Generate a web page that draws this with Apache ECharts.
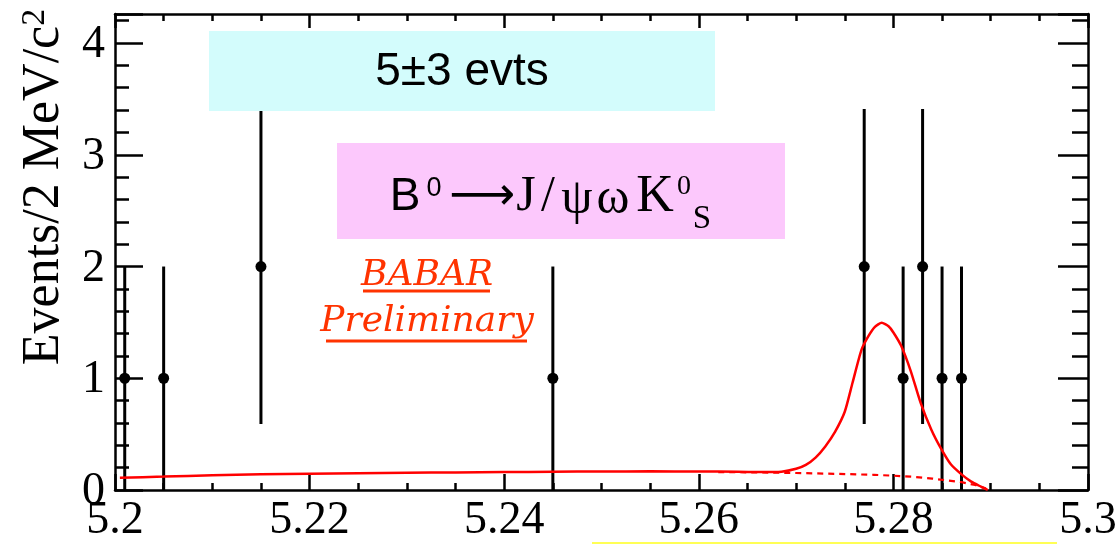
<!DOCTYPE html>
<html>
<head>
<meta charset="utf-8">
<script src="https://cdn.jsdelivr.net/npm/echarts@6/dist/echarts.min.js"></script>
<style>
  html, body { margin: 0; padding: 0; background: #ffffff; }
  #chart { width: 1117px; height: 544px; }
</style>
</head>
<body>
<div id="chart"></div>
<script>
// Candidate mass bins (GeV/c^2), events per 2 MeV bin and their Poisson errors
const binCenters = [5.201, 5.205, 5.215, 5.245, 5.277, 5.281, 5.283, 5.285, 5.287];
const counts     = [1, 1, 2, 1, 2, 1, 2, 1, 1];
const errors     = [1, 1, 1.41, 1, 1.41, 1, 1.41, 1, 1];

// Total fit projection (signal + background)
const fitMass  = [5.2005, 5.205, 5.210, 5.215, 5.220, 5.225, 5.230, 5.235, 5.240, 5.245,
                  5.250, 5.255, 5.260, 5.264, 5.2662, 5.2685, 5.2700, 5.2710, 5.2720, 5.2730,
                  5.2740, 5.2750, 5.2758, 5.2767, 5.2774, 5.2781, 5.2788, 5.2795, 5.2800, 5.2808,
                  5.2818, 5.2828, 5.2839, 5.2849, 5.2859, 5.2870, 5.2880, 5.2890, 5.2897];
const fitTotal = [0.110, 0.120, 0.132, 0.140, 0.146, 0.150, 0.154, 0.157, 0.160, 0.163,
                  0.166, 0.167, 0.166, 0.163, 0.160, 0.164, 0.190, 0.225, 0.290, 0.390,
                  0.520, 0.700, 0.960, 1.250, 1.372, 1.460, 1.497, 1.465, 1.410, 1.290,
                  1.060, 0.780, 0.540, 0.370, 0.230, 0.140, 0.075, 0.030, 0.0];

// Background component of the fit
const bkgMass   = [5.262, 5.266, 5.270, 5.274, 5.278, 5.280, 5.282, 5.284, 5.2857, 5.2870, 5.2884, 5.2894, 5.2897];
const bkgValues = [0.160, 0.158, 0.152, 0.145, 0.136, 0.128, 0.118, 0.102, 0.084, 0.070, 0.045, 0.018, 0.0];

// Axis tick labels and the values they sit on
const xTickLabels = ['5.2', '5.22', '5.24', '5.26', '5.28', '5.3'];
const xTickValues = [5.20, 5.22, 5.24, 5.26, 5.28, 5.30];
const yTickLabels = ['0', '1', '2', '3', '4'];
const yTickValues = [0, 1, 2, 3, 4];

const X_MIN = 5.2, X_MAX = 5.3, X_STEP = 0.02;
const Y_MIN = 0, Y_MAX = 4.26, Y_STEP = 1;

const serif = 'Liberation Serif';
const sans  = 'Liberation Sans';

function pairs(xs, ys) { return xs.map((x, i) => [x, ys[i]]); }

const frame = { show: true, onZero: false, lineStyle: { color: '#000', width: 2.5 } };

function xAxisDef(pos, major, minor) {
  return {
    type: 'value', position: pos, min: X_MIN, max: X_MAX, interval: X_STEP,
    axisLine: frame,
    axisTick: { show: true, inside: true, length: major, lineStyle: { color: '#000', width: 2.5 } },
    minorTick: { show: true, splitNumber: 4, length: minor, lineStyle: { color: '#000', width: 2.5 } },
    splitLine: { show: false }, minorSplitLine: { show: false },
    axisLabel: { show: false }
  };
}
function yAxisDef(pos, major, minor) {
  return {
    type: 'value', position: pos, min: Y_MIN, max: Y_MAX, interval: Y_STEP,
    axisLine: frame,
    axisTick: { show: true, inside: true, length: major, lineStyle: { color: '#000', width: 2.5 } },
    minorTick: { show: true, splitNumber: 5, length: minor, lineStyle: { color: '#000', width: 2.5 } },
    splitLine: { show: false }, minorSplitLine: { show: false },
    axisLabel: { show: false }
  };
}

// Pieces of the decay label: text, font, size, centre x, mid y
const formula = [
  ['B',  sans, 46, 405, 197],
  ['0',  sans, 27, 434, 189],
  ['\u27F6', 'DejaVu Sans', 46, 482, 197],
  ['J',  serif, 50, 526, 197],
  ['/',  serif, 50, 548, 197],
  ['\u03C8', serif, 50, 577, 200],
  ['\u03C9', serif, 50, 613, 200],
  ['K',  serif, 52, 655, 197],
  ['0',  serif, 28, 684, 187],
  ['S',  serif, 33, 702, 219]
];

const chart = echarts.init(document.getElementById('chart'), null, { renderer: 'canvas' });

chart.setOption({
  backgroundColor: '#ffffff',
  animation: false,
  grid: { left: 115, right: 29, top: 14, bottom: 54, show: false },
  xAxis: [xAxisDef('bottom', 16, 7), xAxisDef('top', 14, 7)],
  yAxis: [yAxisDef('left', 28, 14), yAxisDef('right', 30, 16)],
  series: [
    {
      // tick labels of the mass axis, placed through the axis scale
      name: 'xTicks', type: 'custom', xAxisIndex: 0, yAxisIndex: 0, z: 2, silent: true, clip: false,
      data: xTickValues.map(v => [v, Y_MIN]),
      renderItem(params, api) {
        const p = api.coord([api.value(0), api.value(1)]);
        return { type: 'text', x: p[0], y: p[1] + 31,
          style: { text: xTickLabels[params.dataIndex], fontFamily: serif, fontSize: 46, fill: '#000', align: 'center', verticalAlign: 'middle' } };
      }
    },
    {
      // tick labels of the event axis
      name: 'yTicks', type: 'custom', xAxisIndex: 0, yAxisIndex: 0, z: 2, silent: true, clip: false,
      data: yTickValues.map(v => [X_MIN, v]),
      renderItem(params, api) {
        const p = api.coord([api.value(0), api.value(1)]);
        return { type: 'text', x: p[0] - 10, y: p[1] + 2,
          style: { text: yTickLabels[params.dataIndex], fontFamily: serif, fontSize: 46, fill: '#000', align: 'right', verticalAlign: 'middle' } };
      }
    },
    {
      name: 'data', type: 'custom', xAxisIndex: 0, yAxisIndex: 0, z: 3,
      data: binCenters.map((x, i) => [x, counts[i], errors[i]]),
      renderItem(params, api) {
        const x = api.value(0), y = api.value(1), e = api.value(2);
        const top = api.coord([x, y + e]);
        const bot = api.coord([x, Math.max(0, y - e)]);
        const c = api.coord([x, y]);
        return {
          type: 'group',
          children: [
            { type: 'line', shape: { x1: top[0], y1: top[1], x2: bot[0], y2: bot[1] }, style: { stroke: '#000', lineWidth: 3 } },
            { type: 'circle', shape: { cx: c[0], cy: c[1], r: 5.5 }, style: { fill: '#000' } }
          ]
        };
      }
    },
    {
      name: 'background', type: 'line', xAxisIndex: 0, yAxisIndex: 0, z: 4,
      data: pairs(bkgMass, bkgValues), showSymbol: false, symbol: 'none', smooth: false,
      lineStyle: { color: '#ff0000', width: 2.2, type: [6, 5] }
    },
    {
      name: 'fit', type: 'line', xAxisIndex: 0, yAxisIndex: 0, z: 5,
      data: pairs(fitMass, fitTotal), showSymbol: false, symbol: 'none', smooth: 0.2,
      lineStyle: { color: '#ff0000', width: 2.5 }
    }
  ],
  graphic: [
    // axis title
    {
      type: 'text', x: 44, y: 187, rotation: Math.PI / 2, z: 10,
      style: {
        text: '{a|Events/2 MeV/c}{s|2}', align: 'center', verticalAlign: 'middle', fill: '#000',
        rich: {
          a: { fontFamily: serif, fontSize: 52, lineHeight: 52, fill: '#000' },
          s: { fontFamily: serif, fontSize: 34, lineHeight: 40, verticalAlign: 'top', fill: '#000' }
        }
      }
    },
    // yield box
    { type: 'rect', shape: { x: 209, y: 31, width: 506, height: 80 }, style: { fill: '#d3fcfc' }, z: 6 },
    { type: 'text', x: 462, y: 72, z: 7,
      style: { text: '5\u00B13 evts', fontFamily: sans, fontSize: 46, fill: '#000', align: 'center', verticalAlign: 'middle' } },
    // decay mode box
    { type: 'rect', shape: { x: 337, y: 143, width: 448, height: 96 }, style: { fill: '#fcc8fc' }, z: 6 },
    ...formula.map(([t, f, s, cx, cy]) => ({
      type: 'text', x: cx, y: cy, z: 7,
      style: { text: t, fontFamily: f, fontSize: s, fill: '#000', align: 'center', verticalAlign: 'middle' }
    })),
    // preliminary tag
    { type: 'text', x: 427, y: 276, z: 7,
      style: { text: 'BABAR', fontFamily: 'DejaVu Serif', fontStyle: 'italic', fontSize: 36, fill: '#ff3300', align: 'center', verticalAlign: 'middle' } },
    { type: 'line', shape: { x1: 363, y1: 291, x2: 490, y2: 291 }, style: { stroke: '#ff3300', lineWidth: 3 }, z: 7 },
    { type: 'text', x: 427, y: 322, z: 7,
      style: { text: 'Preliminary', fontFamily: 'DejaVu Serif', fontStyle: 'italic', fontSize: 36, fill: '#ff3300', align: 'center', verticalAlign: 'middle' } },
    { type: 'line', shape: { x1: 326, y1: 341, x2: 527, y2: 341 }, style: { stroke: '#ff3300', lineWidth: 3 }, z: 7 },
    // thin rule along the bottom edge
    { type: 'line', shape: { x1: 592, y1: 543, x2: 1057, y2: 543 }, style: { stroke: '#ffff55', lineWidth: 2 }, z: 1 }
  ]
});
</script>
</body>
</html>
